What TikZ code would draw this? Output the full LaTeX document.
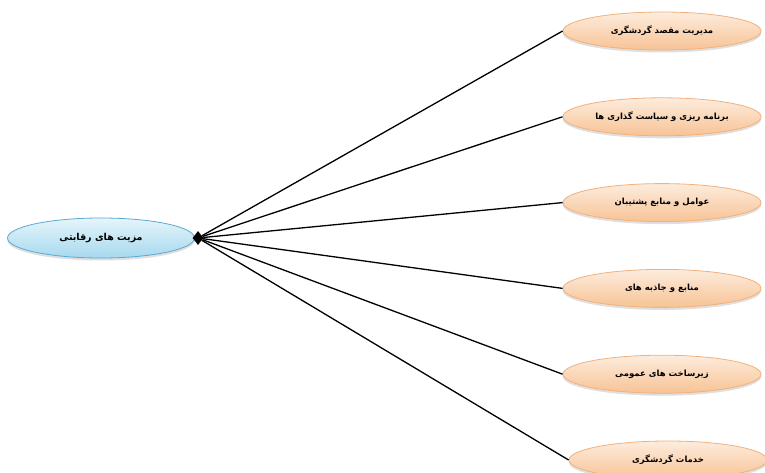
\documentclass[tikz,border=0pt]{standalone}
\usepackage{fontspec}
\newfontfamily\arabicfont[Script=Arabic, BoldFont={DejaVu Sans Bold}]{DejaVu Sans}
\TeXXeTstate=1
\usepackage{xcolor}
\usepackage{tikz}
\usetikzlibrary{shapes.geometric, positioning, shadows}

\definecolor{peachline}{HTML}{F2B07C}
\definecolor{peachtop}{HTML}{FDECDD}
\definecolor{peachbot}{HTML}{F7C395}
\definecolor{skyline}{HTML}{5AA9D2}
\definecolor{skytop}{HTML}{E6F5FB}
\definecolor{skybot}{HTML}{A6D9EE}

\newcommand{\fatext}[1]{\beginR #1\endR}

\begin{document}
\begin{tikzpicture}[x=1pt, y=-1pt, node distance=47pt, >=latex,
    factor/.style={draw=peachline, thick, ellipse, top color=peachtop, bottom color=peachbot,
        minimum width=198pt, minimum height=38pt,
        drop shadow={opacity=0.25, shadow xshift=0pt, shadow yshift=-2.5pt},
        font=\arabicfont\bfseries\fontsize{8.5}{10}\selectfont},
    link/.style={line width=1.3pt}]
    \useasboundingbox (0,0) rectangle (765,473);

    \node [draw=skyline, thick, ellipse, top color=skytop, bottom color=skybot,
        minimum width=187pt, minimum height=40pt,
        drop shadow={opacity=0.25, shadow xshift=0pt, shadow yshift=-2.5pt},
        font=\arabicfont\bfseries\fontsize{9.5}{11}\selectfont] (core) at (101,238) {\fatext{مزیت های رقابتی}};
    \node [diamond, fill=black, inner sep=0pt, minimum width=11pt, minimum height=14pt] (hub) at (198,238) {};

    \node [factor] (f1) at (662,31) {\fatext{مدیریت مقصد گردشگری}};
    \node [factor, below=47pt of f1] (f2) {\fatext{برنامه ریزی و سیاست گذاری ها}};
    \node [factor, below=47pt of f2] (f3) {\fatext{عوامل و منابع پشتیبان}};
    \node [factor, below=47pt of f3] (f4) {\fatext{منابع و جاذبه های}};
    \node [factor, below=47pt of f4] (f5) {\fatext{زیرساخت های عمومی}};
    \node [factor, below=47pt of f5, xshift=6pt] (f6) {\fatext{خدمات گردشگری}};

    \draw [link] (hub) -- (f1.west);
    \draw [link] (hub) -- (f2.west);
    \draw [link] (hub) -- (f3.west);
    \draw [link] (hub) -- (f4.west);
    \draw [link] (hub) -- (f5.west);
    \draw [link] (hub) -- (f6.west);
\end{tikzpicture}
\end{document}
